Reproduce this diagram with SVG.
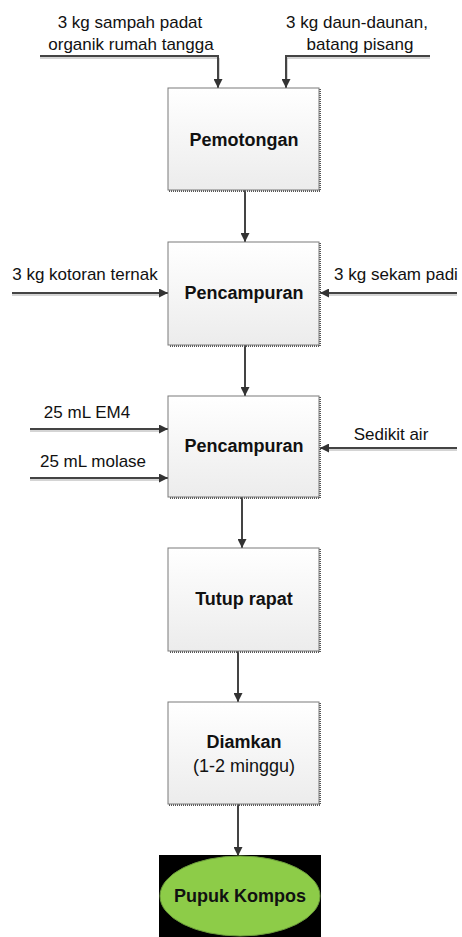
<svg xmlns="http://www.w3.org/2000/svg" width="462" height="937" viewBox="0 0 462 937">
<defs>
<linearGradient id="boxg" x1="0" y1="0" x2="0" y2="1">
<stop offset="0" stop-color="#ffffff"/>
<stop offset="1" stop-color="#ececec"/>
</linearGradient>
<marker id="ah" viewBox="0 0 10 10" refX="10" refY="5" markerWidth="9" markerHeight="9" markerUnits="userSpaceOnUse" orient="auto">
<path d="M0,0 L10,5 L0,10 Z" fill="#333"/>
</marker>
<style>
.box{fill:url(#boxg);stroke:#7a7a7a;stroke-width:1}
.shadow{fill:none;stroke:#555;stroke-width:2;stroke-dasharray:1 1}
.t{font-family:"Liberation Sans",Arial,sans-serif;font-size:17px;fill:#111}
.b{font-family:"Liberation Sans",Arial,sans-serif;font-size:18px;font-weight:bold;fill:#111;text-anchor:middle}
.n{font-family:"Liberation Sans",Arial,sans-serif;font-size:18px;fill:#111;text-anchor:middle}
.c{fill:none;stroke:#444;stroke-width:2}
.cs{fill:none;stroke:#aaa;stroke-width:1}
</style>
</defs>
<rect width="462" height="937" fill="#fff"/>
<g id="connectors">
<path class="cs" d="M40,58 H219 V80"/>
<path class="c" d="M40,56 H218 V88" marker-end="url(#ah)"/>
<path class="cs" d="M430,58 H287 V80"/>
<path class="c" d="M430,56 H286 V88" marker-end="url(#ah)"/>
<path class="c" d="M245,190 V242" marker-end="url(#ah)"/>
<path class="cs" d="M12,295 H160"/>
<path class="c" d="M12,293 H168" marker-end="url(#ah)"/>
<path class="cs" d="M457,295 H328"/>
<path class="c" d="M457,293 H320" marker-end="url(#ah)"/>
<path class="c" d="M245,345 V396" marker-end="url(#ah)"/>
<path class="cs" d="M30,431 H160"/>
<path class="c" d="M30,429 H168" marker-end="url(#ah)"/>
<path class="cs" d="M30,480 H160"/>
<path class="c" d="M30,478 H168" marker-end="url(#ah)"/>
<path class="cs" d="M457,450 H328"/>
<path class="c" d="M457,448 H320" marker-end="url(#ah)"/>
<path class="c" d="M242,497 V548" marker-end="url(#ah)"/>
<path class="c" d="M238,651 V702" marker-end="url(#ah)"/>
<path class="c" d="M238,804 V856" marker-end="url(#ah)"/>
</g>
<g id="labels">
<text class="t" x="130" y="28" text-anchor="middle">3 kg sampah padat</text>
<text class="t" x="131" y="50" text-anchor="middle">organik rumah tangga</text>
<text class="t" x="357" y="28" text-anchor="middle">3 kg daun-daunan,</text>
<text class="t" x="360" y="50" text-anchor="middle">batang pisang</text>
<text class="t" x="85" y="280" text-anchor="middle">3 kg kotoran ternak</text>
<text class="t" x="396" y="280" text-anchor="middle">3 kg sekam padi</text>
<text class="t" x="87" y="418" text-anchor="middle">25 mL EM4</text>
<text class="t" x="93" y="467" text-anchor="middle">25 mL molase</text>
<text class="t" x="391" y="440" text-anchor="middle">Sedikit air</text>
</g>
<g id="n1">
<path class="shadow" d="M320,89 V191 H169"/>
<rect class="box" x="168" y="88" width="151" height="102"/>
<text class="b" x="244" y="146">Pemotongan</text>
</g>
<g id="n2">
<path class="shadow" d="M320,243 V346 H169"/>
<rect class="box" x="168" y="242" width="151" height="103"/>
<text class="b" x="244" y="299">Pencampuran</text>
</g>
<g id="n3">
<path class="shadow" d="M320,397 V498 H169"/>
<rect class="box" x="168" y="396" width="151" height="101"/>
<text class="b" x="244" y="452">Pencampuran</text>
</g>
<g id="n4">
<path class="shadow" d="M320,549 V652 H169"/>
<rect class="box" x="168" y="548" width="151" height="103"/>
<text class="b" x="244" y="605">Tutup rapat</text>
</g>
<g id="n5">
<path class="shadow" d="M320,703 V805 H169"/>
<rect class="box" x="168" y="702" width="151" height="102"/>
<text class="b" x="244" y="748">Diamkan</text>
<text class="n" x="244" y="772">(1-2 minggu)</text>
</g>
<g id="n6">
<rect x="159" y="855" width="162" height="82" fill="#000"/>
<ellipse cx="240" cy="896" rx="80" ry="40" fill="#8dcc48" stroke="#6a9a3a" stroke-width="1"/>
<text class="b" x="240" y="902">Pupuk Kompos</text>
</g>
</svg>
